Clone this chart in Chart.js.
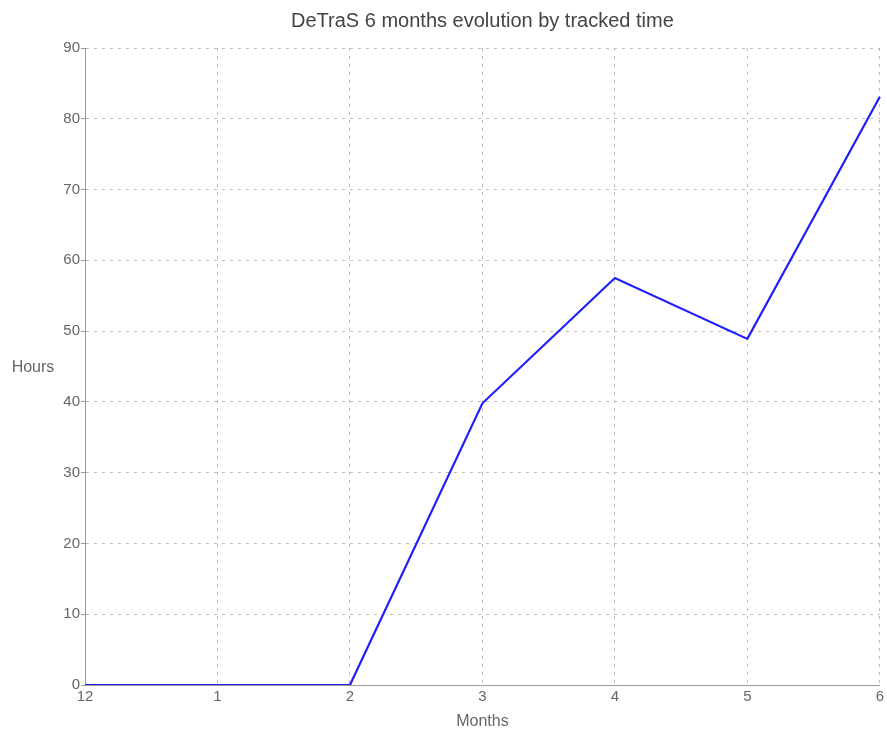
<!DOCTYPE html>
<html>
<head>
<meta charset="utf-8">
<script src="https://cdn.jsdelivr.net/npm/chart.js@4.4.0/dist/chart.umd.min.js"></script>
<style>
  html, body { margin: 0; padding: 0; background: #fff; }
  #wrap { width: 887px; height: 731px; }
</style>
</head>
<body>
<div id="wrap"><canvas id="chart"></canvas></div>
<script>
const monthLabels = ['12', '1', '2', '3', '4', '5', '6'];
const hoursData = [0, 0, 0, 39.8, 57.5, 48.9, 83.1];
const yTicks = [0, 10, 20, 30, 40, 50, 60, 70, 80, 90];

const fontFam = '"Liberation Sans", Arial, sans-serif';

// draw the y title flat, not rotated
const flatYTitle = {
  id: 'flatYTitle',
  afterDraw(chart) {
    const ctx = chart.ctx;
    const area = chart.chartArea;
    ctx.save();
    ctx.font = '16px ' + fontFam;
    ctx.fillStyle = '#666';
    ctx.textAlign = 'center';
    ctx.textBaseline = 'middle';
    ctx.fillText('Hours', 33, (area.top + area.bottom) / 2 + 1);
    ctx.restore();
  }
};

const gridColor = '#bdbdbd';

new Chart(document.getElementById('chart'), {
  type: 'line',
  data: {
    labels: monthLabels,
    datasets: [{
      label: 'Hours',
      data: hoursData,
      borderColor: 'rgb(30, 30, 255)',
      backgroundColor: 'rgb(30, 30, 255)',
      borderWidth: 2.2,
      pointRadius: 0,
      tension: 0,
      fill: false
    }]
  },
  options: {
    responsive: true,
    maintainAspectRatio: false,
    animation: false,
    layout: { padding: { left: 0, right: 0, top: 0, bottom: 0 } },
    plugins: {
      legend: { display: false },
      tooltip: { enabled: false },
      title: {
        display: true,
        fullSize: false,
        text: 'DeTraS 6 months evolution by tracked time',
        color: '#444',
        font: { family: fontFam, size: 20, weight: 'normal' },
        padding: { top: 9, bottom: 15 }
      }
    },
    scales: {
      x: {
        offset: false,
        grid: { color: gridColor, drawTicks: false },
        border: { display: true, color: '#999', dash: [3, 5] },
        ticks: {
          color: '#666',
          padding: 3,
          maxRotation: 0,
          font: { family: fontFam, size: 15 }
        },
        title: {
          display: true,
          text: 'Months',
          color: '#666',
          font: { family: fontFam, size: 16 },
          padding: { top: 8, bottom: 0 }
        },
        afterFit(scale) { scale.height = 46; }
      },
      y: {
        min: 0,
        max: 90,
        afterBuildTicks(scale) { scale.ticks = yTicks.map(v => ({ value: v })); },
        grid: { color: gridColor, tickLength: 4, tickColor: '#999' },
        border: { display: true, color: '#999', dash: [3, 5] },
        ticks: {
          color: '#666',
          padding: 1,
          font: { family: fontFam, size: 15 }
        },
        afterFit(scale) { scale.width = 85; }
      }
    }
  },
  plugins: [flatYTitle]
});
</script>
</body>
</html>
